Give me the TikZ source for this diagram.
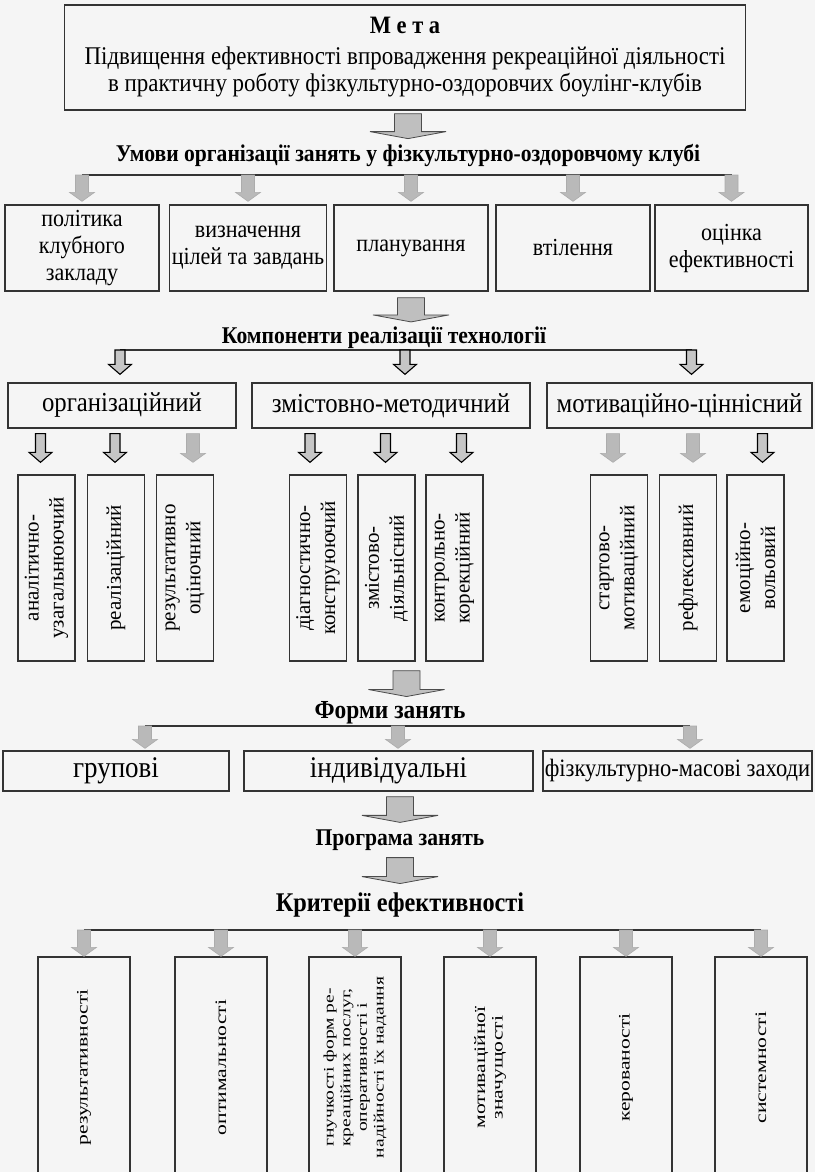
\documentclass[tikz,border=0pt]{standalone}
\usepackage{fontspec}
\setmainfont{Liberation Serif}
\newfontfamily\condfont{Liberation Serif}[FakeStretch=0.9]
\newfontfamily\widefont{Liberation Serif}[FakeStretch=1.35]
\usetikzlibrary{calc}

% block arrow: style, start, tip (x is taken from the tip)
\newcommand\blockarrow[3]{%
  \path[#1] let \p1=(#2), \p2=(#3) in
    (\x2-\shaftw,\y1) -- (\x2+\shaftw,\y1) -- (\x2+\shaftw,\y2+\headl)
    -- (\x2+\headw,\y2+\headl) -- (\x2,\y2) -- (\x2-\headw,\y2+\headl)
    -- (\x2-\shaftw,\y2+\headl) -- cycle;}

\tikzset{
  box/.style={draw=black!80, line width=1.3pt, align=center, inner sep=2pt,
    font=\condfont\fontsize{24.5}{27}\selectfont},
  tallbox/.style={box, rotate=90, minimum width=186pt, minimum height=57pt,
    font=\fontsize{21}{25}\selectfont},
  critbox/.style={box, rotate=90, minimum width=221pt, minimum height=92pt,
    font=\widefont\fontsize{16}{17.5}\selectfont},
  head/.style={font=\condfont\bfseries\fontsize{24}{28}\selectfont, inner sep=1pt},
  barline/.style={draw=black!80, line width=1.6pt},
  bigarr/.style={fill=gray!50, draw=gray!60!black, line width=0.8pt,
    /utils/exec={\def\shaftw{13.5pt}\def\headw{38pt}\def\headl{7pt}}},
  grayarr/.style={fill=gray!55, draw=gray!65, line width=0.6pt,
    /utils/exec={\def\shaftw{6.5pt}\def\headw{12.5pt}\def\headl{9pt}}},
  hatcharr/.style={fill=gray!45, draw=black, line width=1.1pt,
    /utils/exec={\def\shaftw{5pt}\def\headw{11.5pt}\def\headl{10pt}}},
}

\begin{document}
\begin{tikzpicture}[x=1pt,y=1pt]
  \path[use as bounding box, fill=gray!8] (0,0) rectangle (815,-1172);
  \clip (0,0) rectangle (815,-1172);

  % мета
  \node[box, minimum width=681pt, minimum height=105pt, font=\condfont\fontsize{25.5}{27}\selectfont] (meta) at (405,-57.5)
    {\textbf{\fontsize{25}{27}\selectfont М е т а}\\[4pt]
     Підвищення ефективності впровадження рекреаційної діяльності\\
     в практичну роботу фізкультурно-оздоровчих боулінг-клубів};

  % умови
  \node[head] (h1) at (408,-155) {Умови організації занять у фізкультурно-оздоровчому клубі};
  \blockarrow{bigarr}{$(meta.south)+(0,-3)$}{$(h1.north)+(0,4)$}

  \node[box, minimum width=154pt, minimum height=86pt] (b1) at (82,-248) {політика\\клубного\\закладу};
  \node[box, minimum width=155pt, minimum height=86pt] (b2) at (248,-248) {визначення\\цілей та завдань};
  \node[box, minimum width=154pt, minimum height=86pt] (b3) at (411,-248) {планування};
  \node[box, minimum width=154pt, minimum height=86pt] (b4) at (573,-248) {втілення};
  \node[box, minimum width=153pt, minimum height=86pt] (b5) at (731.5,-248) {оцінка\\ефективності};

  \coordinate (bar1) at (0,-175);
  \draw[barline] (b1.north |- bar1) -- (b5.north |- bar1);
  \foreach \b in {b1,b2,b3,b4,b5}
    \blockarrow{grayarr}{\b.north |- bar1}{$(\b.north)+(0,3)$};

  % компоненти
  \node[head] (h2) at (384,-338) {Компоненти реалізації технології};
  \blockarrow{bigarr}{$(b3.south)+(0,-6)$}{$(h2.north -| b3.south)+(0,4)$}

  \node[box, minimum width=228pt, minimum height=45pt, font=\condfont\fontsize{27.5}{30}\selectfont] (c1) at (122,-405.5) {організаційний};
  \node[box, minimum width=278pt, minimum height=45pt, font=\condfont\fontsize{27.5}{30}\selectfont] (c2) at (391,-405.5) {змістовно-методичний};
  \node[box, minimum width=265pt, minimum height=45pt, font=\condfont\fontsize{27.5}{30}\selectfont] (c3) at (679.5,-405.5) {мотиваційно-ціннісний};

  \coordinate (bar2) at (0,-350);
  \draw[barline] ($(c1.north |- bar2)+(-2,0)$) -- ($(c3.north |- bar2)+(12,0)$);
  \foreach \b/\dx in {c1/-2,c2/14,c3/12}
    \blockarrow{hatcharr}{$(\b.north |- bar2)+(\dx,0)$}{$(\b.north)+(\dx,8)$};

  % складові компонентів
  \node[tallbox] (t1) at (46.5,-568) {аналітично-\\узагальнюючий};
  \node[tallbox] (t2) at (116,-568) {реалізаційний};
  \node[tallbox] (t3) at (185,-568) {результативно\\оціночний};
  \node[tallbox] (t4) at (318,-568) {діагностично-\\конструюючий};
  \node[tallbox] (t5) at (386.5,-568) {змістово-\\діяльнісний};
  \node[tallbox] (t6) at (454.5,-568) {контрольно-\\корекційний};
  \node[tallbox] (t7) at (619,-568) {стартово-\\мотиваційний};
  \node[tallbox] (t8) at (688,-568) {рефлексивний};
  \node[tallbox] (t9) at (755.5,-568) {емоційно-\\вольовий};

  \foreach \c/\t/\dx/\s in {c1/t1/-6/hatcharr, c1/t2/-1/hatcharr, c1/t3/8/grayarr,
      c2/t4/-8/hatcharr, c2/t5/-1/hatcharr, c2/t6/7/hatcharr,
      c3/t7/-6/grayarr, c3/t8/5/grayarr, c3/t9/7/hatcharr}
    \blockarrow{\s}{$(\c.south)+(0,-5)$}{$(\t.east)+(\dx,12)$};

  % форми
  \node[head, font=\condfont\bfseries\fontsize{26}{30}\selectfont] (h3) at (390,-713) {Форми занять};
  \blockarrow{bigarr}{$(t5.west)+(0,-9)$}{$(h3.north -| t5.west)+(20,4)$}

  \node[box, minimum width=226pt, minimum height=40pt, font=\condfont\fontsize{30}{32}\selectfont] (f1) at (116,-771) {групові};
  \node[box, minimum width=289pt, minimum height=40pt, font=\condfont\fontsize{30}{32}\selectfont] (f2) at (388.5,-771) {індивідуальні};
  \node[box, minimum width=269pt, minimum height=40pt, font=\condfont\fontsize{25}{28}\selectfont] (f3) at (677.5,-771) {фізкультурно-масові заходи};

  \coordinate (bar3) at (0,-726);
  \draw[barline] ($(f1.north |- bar3)+(29,0)$) -- ($(f3.north |- bar3)+(12.5,0)$);
  \foreach \b/\dx in {f1/29,f2/9.5,f3/12.5}
    \blockarrow{grayarr}{$(\b.north |- bar3)+(\dx,0)$}{$(\b.north)+(\dx,2)$};

  % програма
  \node[head] (h4) at (400,-840) {Програма занять};
  \blockarrow{bigarr}{$(f2.south)+(0,-5)$}{$(h4.north)+(0,6)$}

  % критерії
  \node[head, font=\condfont\bfseries\fontsize{27}{30}\selectfont] (h5) at (400,-905) {Критерії ефективності};
  \blockarrow{bigarr}{$(h4.south)+(0,-6)$}{$(h5.north)+(0,8)$}

  \node[critbox] (k1) at (84,-1067.5) {результативності};
  \node[critbox] (k2) at (221,-1067.5) {оптимальності};
  \node[critbox, font=\widefont\fontsize{14.5}{16.7}\selectfont] (k3) at (355,-1067.5)
    {гнучкості форм ре-\\креаційних послуг,\\оперативності і\\надійності їх надання};
  \node[critbox] (k4) at (490,-1067.5) {мотиваційної\\значущості};
  \node[critbox] (k5) at (626,-1067.5) {керованості};
  \node[critbox] (k6) at (761,-1067.5) {системності};

  \coordinate (bar5) at (0,-930);
  \draw[barline] (k1.east |- bar5) -- (k6.east |- bar5);
  \foreach \b in {k1,k2,k3,k4,k5,k6}
    \blockarrow{grayarr}{\b.east |- bar5}{\b.east};
\end{tikzpicture}
\end{document}
